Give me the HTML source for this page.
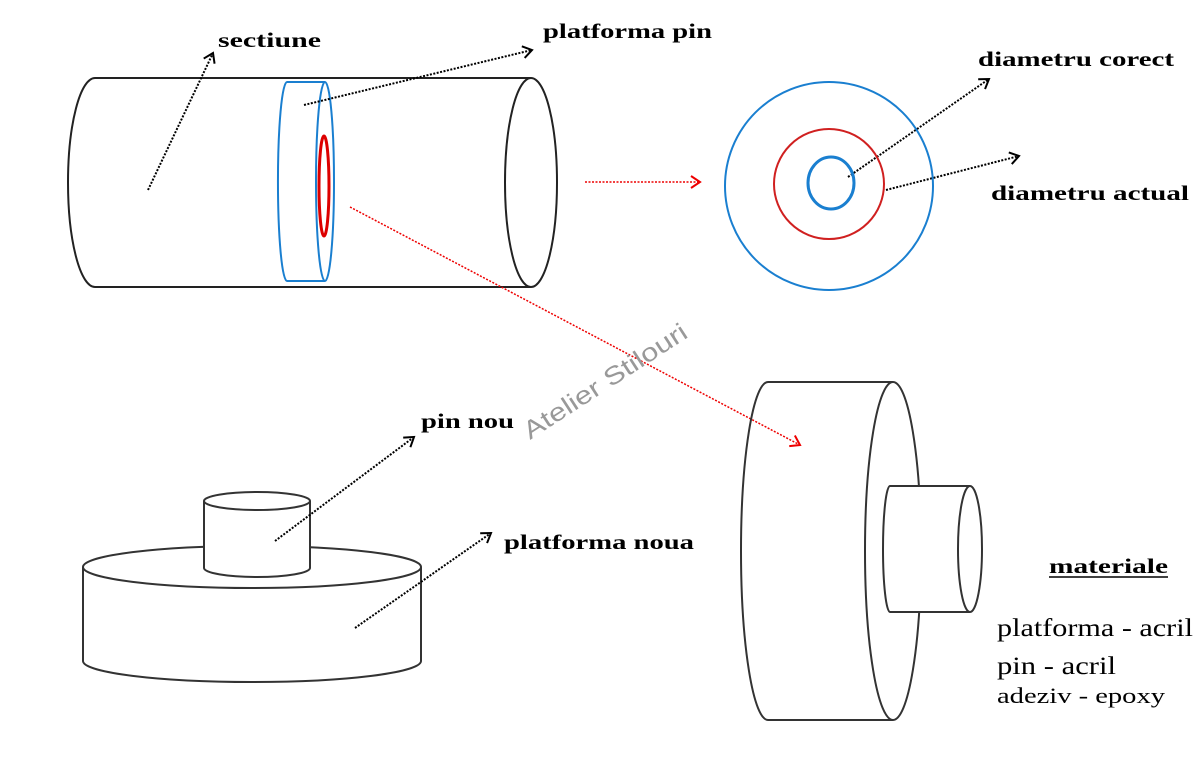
<!DOCTYPE html>
<html><head><meta charset="utf-8"><style>
html,body{margin:0;padding:0;background:#fff;}
svg{display:block;}
.lb{font-family:"Liberation Serif",serif;font-weight:bold;font-size:21px;fill:#000}
.mt{font-family:"Liberation Serif",serif;font-size:25px;fill:#000}
</style></head><body>
<svg width="1200" height="771" viewBox="0 0 1200 771" xmlns="http://www.w3.org/2000/svg">
<defs>
<marker id="ab" markerWidth="14" markerHeight="14" refX="11" refY="7" orient="auto" markerUnits="userSpaceOnUse"><path d="M2,1 L11,7 L2,13" fill="none" stroke="#000" stroke-width="2"/></marker>
<marker id="ar" markerWidth="14" markerHeight="14" refX="11" refY="7" orient="auto" markerUnits="userSpaceOnUse"><path d="M2,1 L11,7 L2,13" fill="none" stroke="#e00" stroke-width="2"/></marker>
</defs>
<g fill="none" stroke="#222" stroke-width="2">
<path d="M95,78 A27,104.5 0 0 0 95,287"/>
<line x1="95" y1="78" x2="531" y2="78"/>
<line x1="95" y1="287" x2="531" y2="287"/>
<ellipse cx="531" cy="182.5" rx="26" ry="104.5" fill="#fff"/>
</g>
<g fill="none" stroke="#1a7fd0" stroke-width="2">
<path d="M287,82 A9,99 0 0 0 287,281"/>
<line x1="287" y1="82" x2="325" y2="82"/>
<line x1="287" y1="281" x2="325" y2="281"/>
<ellipse cx="325" cy="181.5" rx="9" ry="99.5"/>
</g>
<ellipse cx="324" cy="186" rx="5" ry="50" fill="none" stroke="#d00" stroke-width="3"/>
<g stroke="#000" stroke-width="2" stroke-dasharray="2,1.5" fill="none">
<line x1="148" y1="190" x2="213" y2="53" marker-end="url(#ab)"/>
<line x1="304" y1="105" x2="532" y2="50" marker-end="url(#ab)"/>
<line x1="848" y1="177" x2="989" y2="79" marker-end="url(#ab)"/>
<line x1="886" y1="190" x2="1019" y2="156" marker-end="url(#ab)"/>
</g>
<g stroke="#e00" stroke-width="1.5" stroke-dasharray="2,1.5" fill="none">
<line x1="585" y1="182" x2="700" y2="182" marker-end="url(#ar)"/>
<line x1="350" y1="207" x2="800" y2="445" marker-end="url(#ar)"/>
</g>
<circle cx="829" cy="186" r="104" fill="none" stroke="#1a7fd0" stroke-width="2"/>
<circle cx="829" cy="184" r="55" fill="none" stroke="#d02020" stroke-width="2"/>
<ellipse cx="831" cy="183" rx="23" ry="26" fill="none" stroke="#1a7fd0" stroke-width="3"/>
<g fill="none" stroke="#333" stroke-width="2">
<path d="M768,382 A27,169 0 0 0 768,720"/>
<line x1="768" y1="382" x2="893" y2="382"/>
<line x1="768" y1="720" x2="893" y2="720"/>
<ellipse cx="893" cy="551" rx="28" ry="169" fill="#fff"/>
<rect x="883" y="487" width="87" height="124" fill="#fff" stroke="none"/>
<path d="M890,486 A7,63 0 0 0 890,612"/>
<line x1="890" y1="486" x2="970" y2="486"/>
<line x1="890" y1="612" x2="970" y2="612"/>
<ellipse cx="970" cy="549" rx="12" ry="63" fill="#fff"/>
</g>
<g fill="none" stroke="#333" stroke-width="2">
<path d="M83,567 L83,661 A169,21 0 0 0 421,661 L421,567" fill="#fff"/>
<ellipse cx="252" cy="567" rx="169" ry="21" fill="#fff"/>
<path d="M204,501 L204,568 A53,9 0 0 0 310,568 L310,501" fill="#fff"/>
<ellipse cx="257" cy="501" rx="53" ry="9" fill="#fff"/>
</g>
<g stroke="#000" stroke-width="2" stroke-dasharray="2,1.5" fill="none">
<line x1="275" y1="541" x2="414" y2="437" marker-end="url(#ab)"/>
<line x1="355" y1="628" x2="491" y2="533" marker-end="url(#ab)"/>
</g>
<text class="lb" x="218" y="47" textLength="103" lengthAdjust="spacingAndGlyphs">sectiune</text>
<text class="lb" x="543" y="38" textLength="169" lengthAdjust="spacingAndGlyphs">platforma pin</text>
<text class="lb" x="978" y="66" textLength="196" lengthAdjust="spacingAndGlyphs">diametru corect</text>
<text class="lb" x="991" y="200" textLength="198" lengthAdjust="spacingAndGlyphs">diametru actual</text>
<text class="lb" x="421" y="428" textLength="93" lengthAdjust="spacingAndGlyphs">pin nou</text>
<text class="lb" x="504" y="549" textLength="190" lengthAdjust="spacingAndGlyphs">platforma noua</text>
<text class="lb" x="1049" y="573" textLength="119" lengthAdjust="spacingAndGlyphs">materiale</text>
<line x1="1049" y1="577" x2="1168" y2="577" stroke="#000" stroke-width="1.5"/>
<text class="mt" x="997" y="636" textLength="196" lengthAdjust="spacingAndGlyphs">platforma - acril</text>
<text class="mt" x="997" y="674" textLength="119" lengthAdjust="spacingAndGlyphs">pin - acril</text>
<text class="mt" x="997" y="703" style="font-size:22px" textLength="168" lengthAdjust="spacingAndGlyphs">adeziv - epoxy</text>
<text x="0" y="0" transform="translate(530,440) rotate(-33)" textLength="190" lengthAdjust="spacingAndGlyphs" style="font-family:'Liberation Sans',sans-serif;font-size:25px;fill:#999">Atelier Stilouri</text>
</svg>
</body></html>
